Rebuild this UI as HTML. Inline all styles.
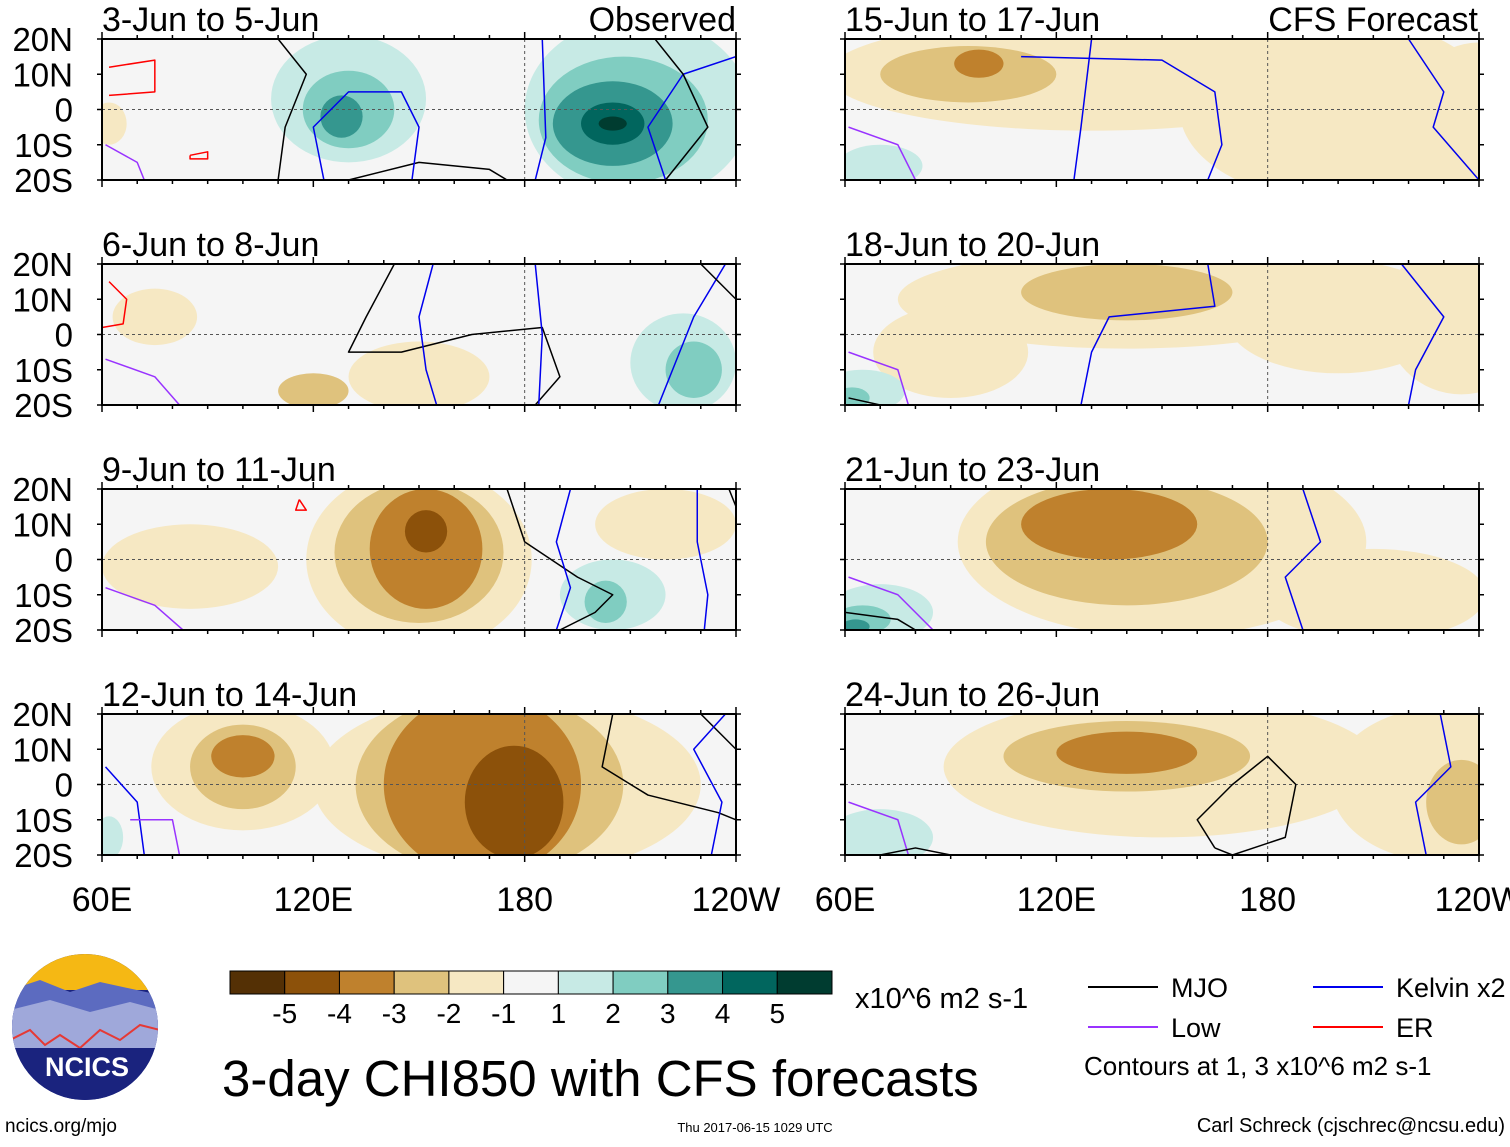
<!DOCTYPE html>
<html><head><meta charset="utf-8"><style>
html,body{margin:0;padding:0;background:#fff;}
body{width:1510px;height:1142px;overflow:hidden;font-family:"Liberation Sans",sans-serif;}
</style></head><body>
<svg id="chart" width="1510" height="1142" xmlns="http://www.w3.org/2000/svg" font-family="Liberation Sans, sans-serif"></svg>
<script>
const levelColors = ['#543005','#8c510a','#bf812d','#dfc27d','#f6e8c3','#f5f5f5','#c7eae5','#80cdc1','#35978f','#01665e','#003c30'];
const levelValues = [-5,-4,-3,-2,-1,0,1,2,3,4,5];
const barLabels = ['-5','-4','-3','-2','-1','1','2','3','4','5'];
const lonTicks = ['60E','120E','180','120W'];
const latTicks = ['20N','10N','0','10S','20S'];
const titles = ['3-Jun to 5-Jun','6-Jun to 8-Jun','9-Jun to 11-Jun','12-Jun to 14-Jun','15-Jun to 17-Jun','18-Jun to 20-Jun','21-Jun to 23-Jun','24-Jun to 26-Jun'];
// blobs: [lon, lat, rlon, rlat, level]
const blobs0 = [[62,-4,5,6,-1],[130,3,22,18,1],[130,0,13,11,2],[128,-2,6,6,3],[212,0,32,26,1],[208,-3,24,18,2],[205,-4,17,12,3],[205,-4,9,6,4],[205,-4,4,2,5]];
const blobs1 = [[75,5,12,8,-1],[150,-12,20,10,-1],[120,-16,10,5,-2],[225,-8,15,14,1],[228,-10,8,8,2]];
const blobs2 = [[150,0,32,26,-1],[85,-2,25,12,-1],[220,10,20,10,-1],[150,2,24,20,-2],[152,3,16,17,-3],[152,8,6,6,-4],[205,-10,15,10,1],[203,-12,6,6,2]];
const blobs3 = [[175,0,55,26,-1],[100,5,26,18,-1],[215,5,12,10,-1],[170,0,38,26,-2],[100,5,15,12,-2],[168,0,28,26,-3],[100,8,9,6,-3],[177,-5,14,16,-4],[62,-15,4,6,1]];
const blobs4 = [[130,10,75,16,-1],[200,0,45,26,-1],[240,-5,22,24,-1],[95,10,25,8,-2],[98,13,7,4,-3],[70,-16,12,6,1]];
const blobs5 = [[140,10,65,14,-1],[200,5,32,16,-1],[235,5,22,22,-1],[90,-5,22,13,-1],[140,12,30,8,-2],[65,-16,12,6,1],[62,-18,5,3,2]];
const blobs6 = [[150,5,58,27,-1],[210,-10,32,13,-1],[140,5,40,18,-2],[135,10,25,10,-3],[70,-15,15,8,1],[65,-17,8,4,2],[63,-19,4,2,3]];
const blobs7 = [[150,5,62,20,-1],[230,0,32,22,-1],[140,8,35,10,-2],[235,-5,10,12,-2],[140,9,20,6,-3],[70,-15,15,8,1]];
// lines: [type, [[lon,lat],...]]
const lines0 = [['er',[[62,12],[75,14],[75,5],[62,4]]],['er',[[85,-13],[90,-12],[90,-14],[85,-14],[85,-13]]],['mjo',[[110,20],[118,10],[112,-5],[110,-20]]],['mjo',[[130,-20],[150,-15],[170,-17],[175,-20]]],['kelvin',[[123,-20],[120,-5],[130,5],[145,5],[150,-5],[148,-20]]],['kelvin',[[183,-20],[186,-8],[185,20]]],['kelvin',[[240,15],[225,10],[215,-5],[220,-20]]],['mjo',[[217,20],[225,10],[232,-5],[220,-20]]],['low',[[61,-10],[70,-15],[72,-20]]]];
const lines1 = [['er',[[62,15],[67,10],[66,3],[60,2]]],['mjo',[[143,20],[135,5],[130,-5],[145,-5],[165,0],[185,2],[190,-12],[183,-20]]],['kelvin',[[154,20],[150,5],[152,-10],[155,-20]]],['kelvin',[[183,20],[185,0],[184,-20]]],['kelvin',[[237,20],[228,5],[222,-10],[218,-20]]],['mjo',[[230,20],[240,10]]],['low',[[61,-7],[75,-12],[82,-20]]]];
const lines2 = [['mjo',[[175,20],[180,5],[195,-5],[205,-10],[200,-15],[190,-20]]],['kelvin',[[193,20],[189,5],[193,-8],[189,-20]]],['kelvin',[[229,20],[229,5],[232,-10],[231,-20]]],['mjo',[[238,20],[240,15]]],['low',[[61,-8],[75,-13],[83,-20]]],['er',[[116,17],[118,14],[115,14],[116,17]]]];
const lines3 = [['kelvin',[[61,5],[70,-5],[72,-20]]],['low',[[68,-10],[80,-10],[82,-20]]],['mjo',[[205,20],[202,5],[215,-3],[235,-8],[240,-10]]],['mjo',[[230,20],[240,10]]],['kelvin',[[237,20],[228,10],[236,-5],[233,-20]]]];
const lines4 = [['low',[[61,-5],[75,-10],[80,-20]]],['kelvin',[[130,20],[127,-5],[125,-20]]],['kelvin',[[110,15],[150,14],[165,5],[167,-10],[163,-20]]],['kelvin',[[220,20],[230,5],[227,-5],[240,-20]]]];
const lines5 = [['low',[[61,-5],[75,-10],[78,-20]]],['mjo',[[61,-18],[70,-20]]],['kelvin',[[127,-20],[130,-5],[135,5],[165,8],[163,20]]],['kelvin',[[218,20],[230,5],[222,-10],[220,-20]]]];
const lines6 = [['low',[[61,-5],[75,-10],[85,-20]]],['mjo',[[60,-15],[75,-17],[80,-20]]],['kelvin',[[190,20],[195,5],[185,-5],[190,-20]]]];
const lines7 = [['low',[[61,-5],[75,-10],[78,-20]]],['mjo',[[70,-20],[80,-18],[90,-20]]],['mjo',[[165,-18],[160,-10],[170,0],[180,8],[188,0],[185,-15],[170,-20],[165,-18]]],['kelvin',[[229,20],[232,5],[222,-5],[225,-20]]]];

const panelBlobs=[blobs0,blobs1,blobs2,blobs3,blobs4,blobs5,blobs6,blobs7];
const panelLines=[lines0,lines1,lines2,lines3,lines4,lines5,lines6,lines7];
const svg=document.getElementById('chart');
const NS='http://www.w3.org/2000/svg';
function mk(tag,attrs,parent){const e=document.createElementNS(NS,tag);for(const k in attrs)e.setAttribute(k,attrs[k]);(parent||svg).appendChild(e);return e;}
function txt(x,y,s,size,anchor,parent){const t=mk('text',{x:x,y:y,'font-size':size,'text-anchor':anchor||'start',fill:'#000'},parent);t.textContent=s;return t;}
const lineColors={mjo:'#000',kelvin:'#0000ee',low:'#9933ff',er:'#ff0000'};
const W=634,H=141,colX=[102,845],rowY=[39,264,489,714];
const defs=mk('defs',{});
for(let p=0;p<8;p++){
  const x0=colX[Math.floor(p/4)],y0=rowY[p%4];
  const X=lon=>x0+(lon-60)*W/180, Y=lat=>y0+(20-lat)*H/40;
  const cp=mk('clipPath',{id:'clip'+p},defs);mk('rect',{x:x0,y:y0,width:W,height:H},cp);
  const g=mk('g',{'clip-path':'url(#clip'+p+')'});
  
  
  mk('rect',{x:x0,y:y0,width:W,height:H,fill:levelColors[5]},g);
  panelBlobs[p].forEach(b=>{
    const e=mk('ellipse',{cx:X(b[0]),cy:Y(b[1]),rx:b[2]*W/180,ry:b[3]*H/40,fill:levelColors[levelValues.indexOf(b[4])]},g);
    
    
  });
  mk('line',{x1:x0,y1:Y(0),x2:x0+W,y2:Y(0),stroke:'#555','stroke-dasharray':'3,3','stroke-width':1},g);
  mk('line',{x1:X(180),y1:y0,x2:X(180),y2:y0+H,stroke:'#555','stroke-dasharray':'3,3','stroke-width':1},g);
  panelLines[p].forEach(l=>{
    const pl=mk('polyline',{points:l[1].map(q=>X(q[0])+','+Y(q[1])).join(' '),fill:'none',stroke:lineColors[l[0]],'stroke-width':1.5,'stroke-linejoin':'round'},g);
    
    
  });
  mk('rect',{x:x0,y:y0,width:W,height:H,fill:'none',stroke:'#000','stroke-width':2});
  for(let lon=60;lon<=240;lon+=10){const L=(lon%60==0)?7:4;
    mk('line',{x1:X(lon),y1:y0,x2:X(lon),y2:y0-L,stroke:'#000','stroke-width':1.5});
    mk('line',{x1:X(lon),y1:y0+H,x2:X(lon),y2:y0+H+L,stroke:'#000','stroke-width':1.5});}
  for(let lat=-20;lat<=20;lat+=10){mk('line',{x1:x0,y1:Y(lat),x2:x0-5,y2:Y(lat),stroke:'#000','stroke-width':1.5});mk('line',{x1:x0+W,y1:Y(lat),x2:x0+W+5,y2:Y(lat),stroke:'#000','stroke-width':1.5});}
  const t=txt(x0,y0-8,titles[p],34);
  if(p<4){latTicks.forEach((s,i)=>{const tt=txt(73,y0+i*H/4+12,s,33,'end');});}
  if(p==3||p==7){lonTicks.forEach((s,i)=>{const tt=txt(X(60+i*60),911,s,34,'middle');});}
}
txt(736,31,'Observed',34,'end');
txt(1478,31,'CFS Forecast',34,'end');
// colorbar
const cbx=230,cbw=602/11;
levelColors.forEach((c,i)=>{const r=mk('rect',{x:cbx+i*cbw,y:971,width:cbw,height:23,fill:c,stroke:'#000','stroke-width':1});});
barLabels.forEach((s,i)=>{txt(cbx+(i+1)*cbw,1023,s,28,'middle');});
txt(855,1008,'x10^6 m2 s-1',29);
txt(222,1096,'3-day CHI850 with CFS forecasts',51);
// legend
const leg=[['mjo','MJO',1088,987],['kelvin','Kelvin x2',1313,987],['low','Low',1088,1027],['er','ER',1313,1027]];
leg.forEach(l=>{mk('line',{x1:l[2],y1:l[3],x2:l[2]+70,y2:l[3],stroke:lineColors[l[0]],'stroke-width':2});const t=txt(l[2]+83,l[3]+10,l[1],27);});
txt(1084,1075,'Contours at 1, 3 x10^6 m2 s-1',26);
// logo
const lg=mk('g',{});
const lc=mk('clipPath',{id:'logoclip'},defs);mk('circle',{cx:85,cy:1027,r:73},lc);
const lgi=mk('g',{'clip-path':'url(#logoclip)'},lg);
mk('rect',{x:10,y:950,width:150,height:160,fill:'#1a237e'},lgi);
mk('rect',{x:10,y:950,width:150,height:40,fill:'#f5b814'},lgi);
mk('path',{d:'M10 990 L40 980 L70 992 L100 982 L160 995 L160 1030 L10 1030Z',fill:'#5c6bc0'},lgi);
mk('path',{d:'M10 1010 L50 1000 L90 1012 L130 1002 L160 1010 L160 1050 L10 1050Z',fill:'#9fa8da'},lgi);
mk('polyline',{points:'10,1040 30,1030 45,1045 60,1035 80,1048 100,1030 120,1040 140,1025 160,1030',fill:'none',stroke:'#e53935','stroke-width':2},lgi);
mk('rect',{x:10,y:1048,width:150,height:70,fill:'#1a237e'},lgi);
const lt=txt(87,1076,'NCICS',27,'middle',lg);lt.setAttribute('fill','#fff');lt.setAttribute('font-weight','bold');
txt(5,1132,'ncics.org/mjo',19);
txt(755,1132,'Thu 2017-06-15 1029 UTC',13,'middle');
txt(1505,1132,'Carl Schreck (cjschrec@ncsu.edu)',20,'end');
</script>
</body></html>
